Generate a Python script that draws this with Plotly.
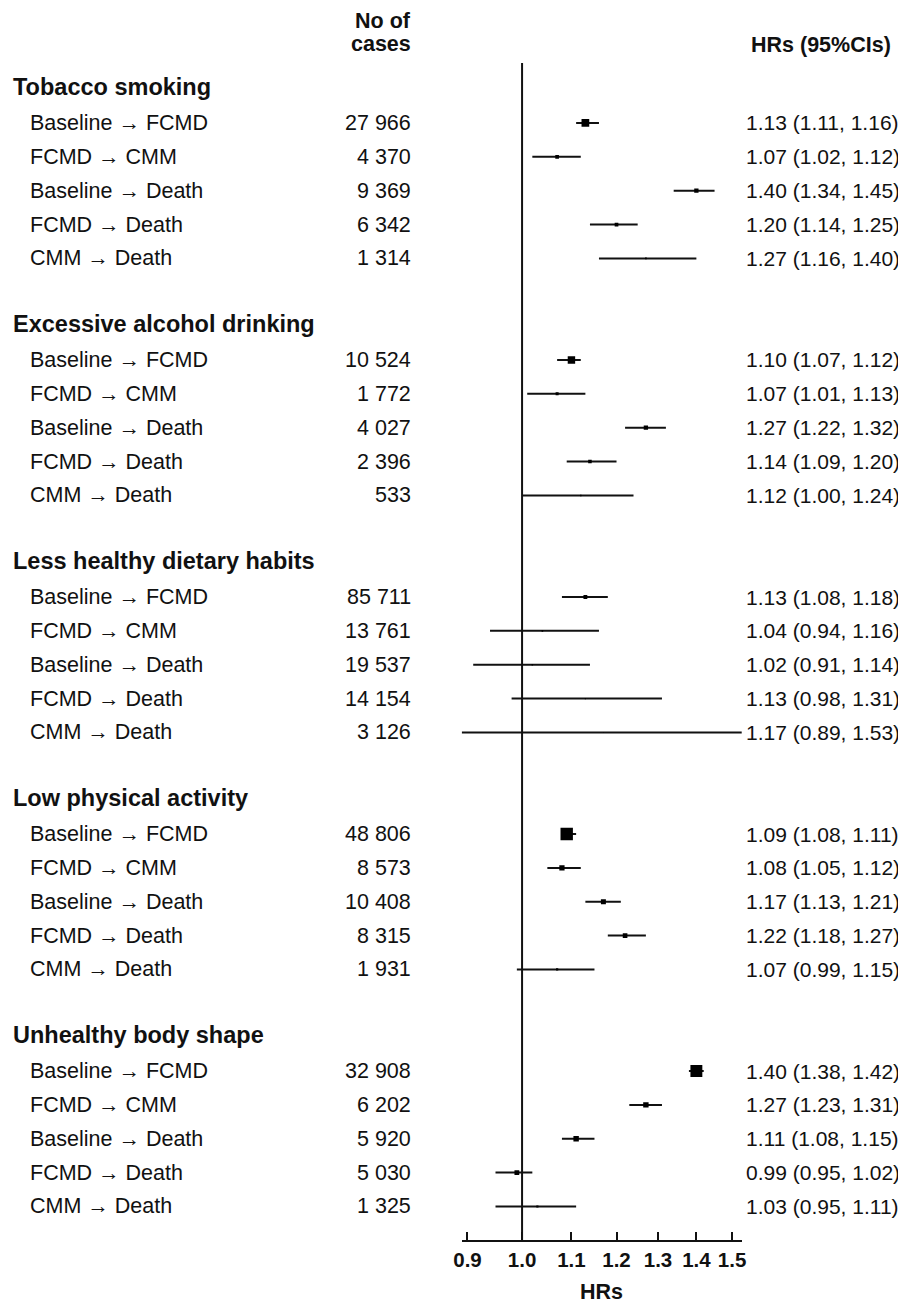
import numpy as np
import plotly.graph_objects as go

# ---------------- data ----------------
groups = ["Tobacco smoking", "Excessive alcohol drinking", "Less healthy dietary habits",
          "Low physical activity", "Unhealthy body shape"]
transitions = ["Baseline \u2192 FCMD", "FCMD \u2192 CMM", "Baseline \u2192 Death",
               "FCMD \u2192 Death", "CMM \u2192 Death"]

cases_tobacco = [27966, 4370, 9369, 6342, 1314]
cases_alcohol = [10524, 1772, 4027, 2396, 533]
cases_diet = [85711, 13761, 19537, 14154, 3126]
cases_activity = [48806, 8573, 10408, 8315, 1931]
cases_body = [32908, 6202, 5920, 5030, 1325]

hr_tobacco = [1.13, 1.07, 1.40, 1.20, 1.27]
lo_tobacco = [1.11, 1.02, 1.34, 1.14, 1.16]
hi_tobacco = [1.16, 1.12, 1.45, 1.25, 1.40]

hr_alcohol = [1.10, 1.07, 1.27, 1.14, 1.12]
lo_alcohol = [1.07, 1.01, 1.22, 1.09, 1.00]
hi_alcohol = [1.12, 1.13, 1.32, 1.20, 1.24]

hr_diet = [1.13, 1.04, 1.02, 1.13, 1.17]
lo_diet = [1.08, 0.94, 0.91, 0.98, 0.89]
hi_diet = [1.18, 1.16, 1.14, 1.31, 1.53]

hr_activity = [1.09, 1.08, 1.17, 1.22, 1.07]
lo_activity = [1.08, 1.05, 1.13, 1.18, 0.99]
hi_activity = [1.11, 1.12, 1.21, 1.27, 1.15]

hr_body = [1.40, 1.27, 1.11, 0.99, 1.03]
lo_body = [1.38, 1.23, 1.08, 0.95, 0.95]
hi_body = [1.42, 1.31, 1.15, 1.02, 1.11]

x_ticks = [0.9, 1.0, 1.1, 1.2, 1.3, 1.4, 1.5]
x_ticktext = ["0.9", "1.0", "1.1", "1.2", "1.3", "1.4", "1.5"]

cases_all = [cases_tobacco, cases_alcohol, cases_diet, cases_activity, cases_body]
hr_all = [hr_tobacco, hr_alcohol, hr_diet, hr_activity, hr_body]
lo_all = [lo_tobacco, lo_alcohol, lo_diet, lo_activity, lo_body]
hi_all = [hi_tobacco, hi_alcohol, hi_diet, hi_activity, hi_body]

# ---------------- layout helpers ----------------
OFF = 8                      # page body margin
W, H = 906 - OFF, 1304 - OFF
FONT = "Liberation Sans, Arial, sans-serif"
INK = "#111111"

def px(x):
    return (x - OFF) / W

def py(y):
    return 1 - (y - OFF) / H

ax_left, ax_right = 461.7, 741.7
ax_top, ax_bottom = 63, 1240
slot0, slot = 89.1, 33.86
y_top = (ax_top - slot0) / slot
y_bot = (ax_bottom - slot0) / slot

ci_x, ci_y = [], []
pt_x, pt_y, pt_size = [], [], []
annotations = []

for g, name in enumerate(groups):
    hy = g * 7
    annotations.append(dict(x=px(11), y=hy, xref="paper", yref="y", text=f"<b>{name}</b>",
                            showarrow=False, xanchor="left", yanchor="middle", yshift=2,
                            font=dict(family=FONT, size=23.5, color=INK)))
    for r in range(5):
        yy = hy + r + 1
        hr, lo, hi = hr_all[g][r], lo_all[g][r], hi_all[g][r]
        ci_x += [lo, hi, None]
        ci_y += [yy, yy, None]
        pt_x.append(hr)
        pt_y.append(yy)
        pt_size.append(0.34 / np.log(hi / lo))
        annotations.append(dict(x=px(28), y=yy, xref="paper", yref="y",
                                text=transitions[r],
                                showarrow=False, xanchor="left", yanchor="middle",
                                font=dict(family=FONT, size=21.5, color=INK)))
        annotations.append(dict(x=px(413), y=yy, xref="paper", yref="y",
                                text=f"{cases_all[g][r]:,}".replace(",", " "),
                                showarrow=False, xanchor="right", yanchor="middle",
                                font=dict(family=FONT, size=21.5, color=INK)))
        annotations.append(dict(x=px(744), y=yy, xref="paper", yref="y",
                                text=f"{hr:.2f} ({lo:.2f}, {hi:.2f})",
                                showarrow=False, xanchor="left", yanchor="middle",
                                font=dict(family=FONT, size=21, color=INK)))

# column headers
annotations.append(dict(x=px(413), y=py(21), xref="paper", yref="paper", text="<b>No of</b>",
                        showarrow=False, xanchor="right", yanchor="middle",
                        font=dict(family=FONT, size=21.5, color=INK)))
annotations.append(dict(x=px(413), y=py(44), xref="paper", yref="paper", text="<b>cases</b>",
                        showarrow=False, xanchor="right", yanchor="middle",
                        font=dict(family=FONT, size=21.5, color=INK)))
annotations.append(dict(x=px(821), y=py(45), xref="paper", yref="paper", text="<b>HRs (95%CIs)</b>",
                        showarrow=False, xanchor="center", yanchor="middle",
                        font=dict(family=FONT, size=21.5, color=INK)))
# axis title
annotations.append(dict(x=px((ax_left + ax_right) / 2), y=py(1292), xref="paper", yref="paper",
                        text="<b>HRs</b>", showarrow=False, xanchor="center", yanchor="middle",
                        font=dict(family=FONT, size=21.5, color=INK)))

fig = go.Figure()
fig.add_trace(go.Scatter(x=ci_x, y=ci_y, mode="lines", line=dict(color=INK, width=2),
                         hoverinfo="skip", showlegend=False))
fig.add_trace(go.Scatter(x=pt_x, y=pt_y, mode="markers",
                         marker=dict(symbol="square", size=pt_size, color="#000000",
                                     opacity=1, line=dict(width=0)),
                         showlegend=False))

fig.add_shape(type="line", xref="x", yref="y domain", x0=1.0, x1=1.0, y0=0, y1=1,
              line=dict(color=INK, width=2), layer="above")

fig.update_layout(
    width=W, height=H,
    margin=dict(l=0, r=0, t=0, b=0),
    paper_bgcolor="white", plot_bgcolor="white",
    annotations=annotations,
    showlegend=False,
    xaxis=dict(type="log", domain=[px(ax_left), px(ax_right)],
               range=[np.log10(0.890), np.log10(1.528)],
               tickvals=x_ticks, ticktext=x_ticktext,
               ticks="inside", ticklen=8, tickwidth=2, tickcolor=INK,
               showline=True, linewidth=2, linecolor=INK,
               showgrid=False, zeroline=False, automargin=False,
               tickfont=dict(family=FONT, size=20.5, color=INK, weight="bold")),
    yaxis=dict(domain=[1 - (ax_bottom - OFF) / H, 1 - (ax_top - OFF) / H],
               range=[y_bot, y_top], visible=False, showgrid=False,
               zeroline=False, automargin=False),
)

fig.write_html("out.html")
